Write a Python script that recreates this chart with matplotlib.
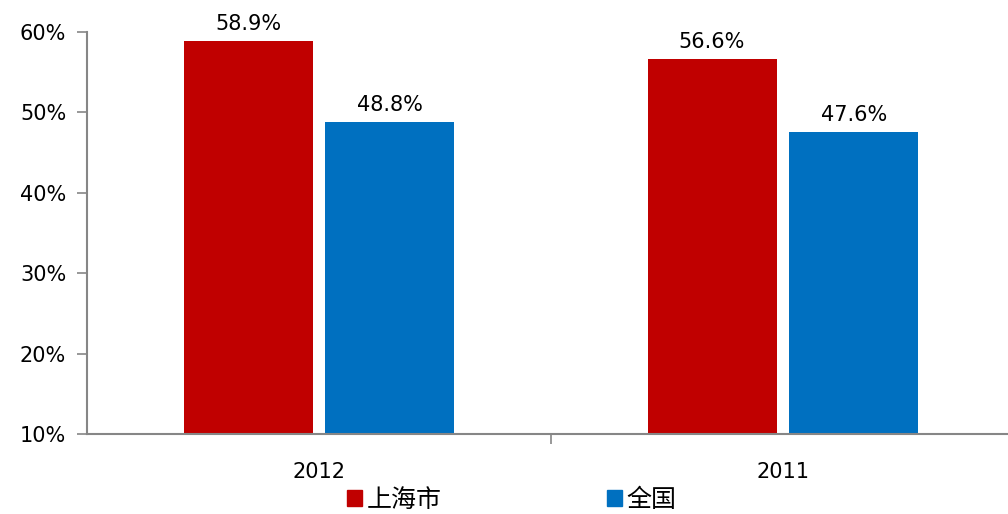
import matplotlib.pyplot as plt
from matplotlib.patches import Patch

plt.rcParams['font.family'] = ['DejaVu Sans', 'Noto Sans CJK SC']

years = ['2012', '2011']
shanghai = [58.9, 56.6]
national = [48.8, 47.6]
series_names = ['上海市', '全国']
colors = ['#C00000', '#0070C0']
yticks = [10, 20, 30, 40, 50, 60]

fig = plt.figure(figsize=(10.08, 5.14), dpi=100)

ax = fig.add_axes([87 / 1008, 80 / 514, 928 / 1008, 402 / 514])

x = range(len(years))
off = 0.153
w = 0.278
b1 = ax.bar([i - off for i in x], [v - 10 for v in shanghai], w, bottom=10, color=colors[0])
b2 = ax.bar([i + off for i in x], [v - 10 for v in national], w, bottom=10, color=colors[1])

for bars, vals in [(b1, shanghai), (b2, national)]:
    for r, v in zip(bars, vals):
        ax.annotate(f'{v:.1f}%', (r.get_x() + r.get_width() / 2, v),
                    xytext=(0, 5), textcoords='offset points',
                    ha='center', va='bottom', fontsize=15)

ax.set_xlim(-0.5, 1.5)
ax.set_ylim(10, 60)
ax.set_yticks(yticks)
ax.set_yticklabels([f'{t}%' for t in yticks], fontsize=15)
ax.set_xticks([0, 1])
ax.set_xticklabels(years, fontsize=15)
ax.set_xticks([0.5], minor=True)
ax.tick_params(axis='x', which='major', length=0, pad=20)
ax.tick_params(axis='x', which='minor', length=7, color='#868686', width=1.2)
ax.tick_params(axis='y', length=7, color='#868686', width=1.2, pad=8)
for s in ['top', 'right']:
    ax.spines[s].set_visible(False)
for s in ['left', 'bottom']:
    ax.spines[s].set_color('#868686')
    ax.spines[s].set_linewidth(1.5)

handles = [Patch(color=c) for c in colors]
fig.legend(handles, series_names, loc='lower left', bbox_to_anchor=(324 / 1008, -0.04),
           ncol=2, frameon=False, fontsize=18, handlelength=0.6, handleheight=0.6,
           handletextpad=0.2, columnspacing=6.6)

fig.savefig('out.png', dpi=100)
